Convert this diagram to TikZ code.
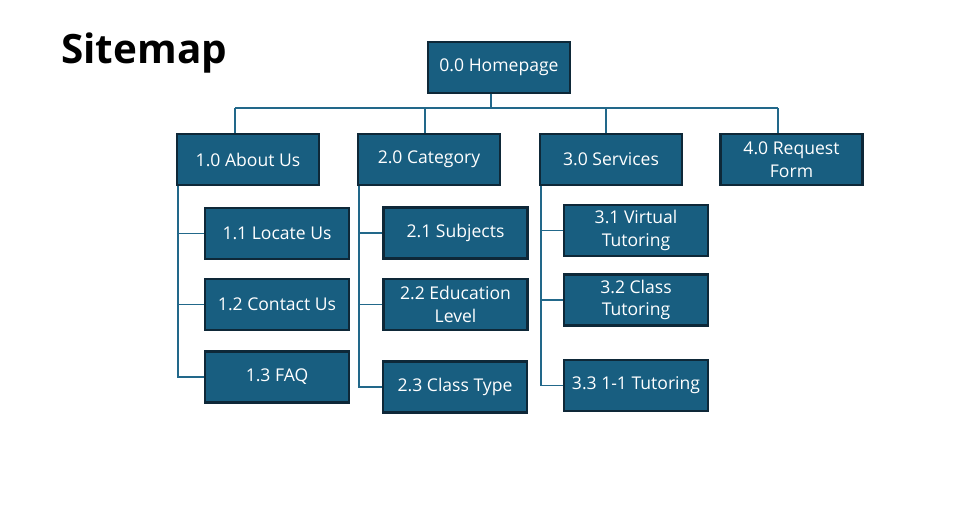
\documentclass[tikz,border=0pt]{standalone}
\usepackage{fontspec}
\setmainfont{Open Sans}
\usetikzlibrary{calc,backgrounds}
\definecolor{boxfill}{RGB}{24,94,128}
\definecolor{boxline}{RGB}{14,40,56}
\definecolor{linkcol}{RGB}{34,104,138}
\tikzstyle{page}=[rectangle,draw=boxline,fill=boxfill,line width=1.2pt,minimum width=2.84cm,minimum height=1.02cm,text=white,align=center,inner sep=1pt,font=\fontsize{10}{13}\selectfont]
\tikzstyle{subpage}=[page,minimum width=2.88cm]
\tikzstyle{link}=[draw=linkcol,line width=1.1pt]

\begin{document}
\begin{tikzpicture}[x=0.02cm,y=-0.02cm]
    \useasboundingbox (0,0) rectangle (966,515);

    \node[anchor=base west,inner sep=0pt,font=\bfseries\fontsize{23}{27}\selectfont] (title) at (61,63) {Sitemap};

    \node[page] (p0) at (499,67.5) {0.0 Homepage};
    \foreach \i/\x/\t in {1/248/{1.0 About Us},2/429/{2.0 Category},3/611/{3.0 Services},4/791.5/{4.0 Request\\Form}} {
        \node[page] (p\i) at (\x,159.5) {\t};
    };

    \node[subpage] (p11) at (277,233.5) {1.1 Locate Us};
    \node[subpage] (p12) at (277,304.5) {1.2 Contact Us};
    \node[subpage] (p13) at (277,377) {1.3 FAQ};

    \node[subpage] (p21) at (455.5,233) {2.1 Subjects};
    \node[subpage] (p22) at (455.5,304.5) {2.2 Education\\Level};
    \node[subpage] (p23) at (455,387) {2.3 Class Type};

    \node[subpage] (p31) at (636,230.5) {3.1 Virtual\\Tutoring};
    \node[subpage] (p32) at (636,300) {3.2 Class\\Tutoring};
    \node[subpage] (p33) at (636,385.5) {3.3 1-1 Tutoring};

    \begin{scope}[on background layer]
    % bus under the homepage
    \coordinate (d0) at (491,108);
    \coordinate (d1) at (235,108);
    \coordinate (d2) at (425,108);
    \coordinate (d3) at (606,108);
    \coordinate (d4) at (778,108);
    \draw[link] (d0 |- p0.south) -- (d0);
    \draw[link] (d1) -- (d4);
    \foreach \i in {1,...,4} {
        \draw[link] (d\i) -- (d\i |- p\i.north);
    };
    \foreach \i in {1,...,3} {
        \foreach \j in {1,...,3} {
            \draw[link] ([xshift=1.2pt]p\i.south west) |- (p\i\j.west);
        };
    };
    \end{scope}
\end{tikzpicture}
\end{document}
